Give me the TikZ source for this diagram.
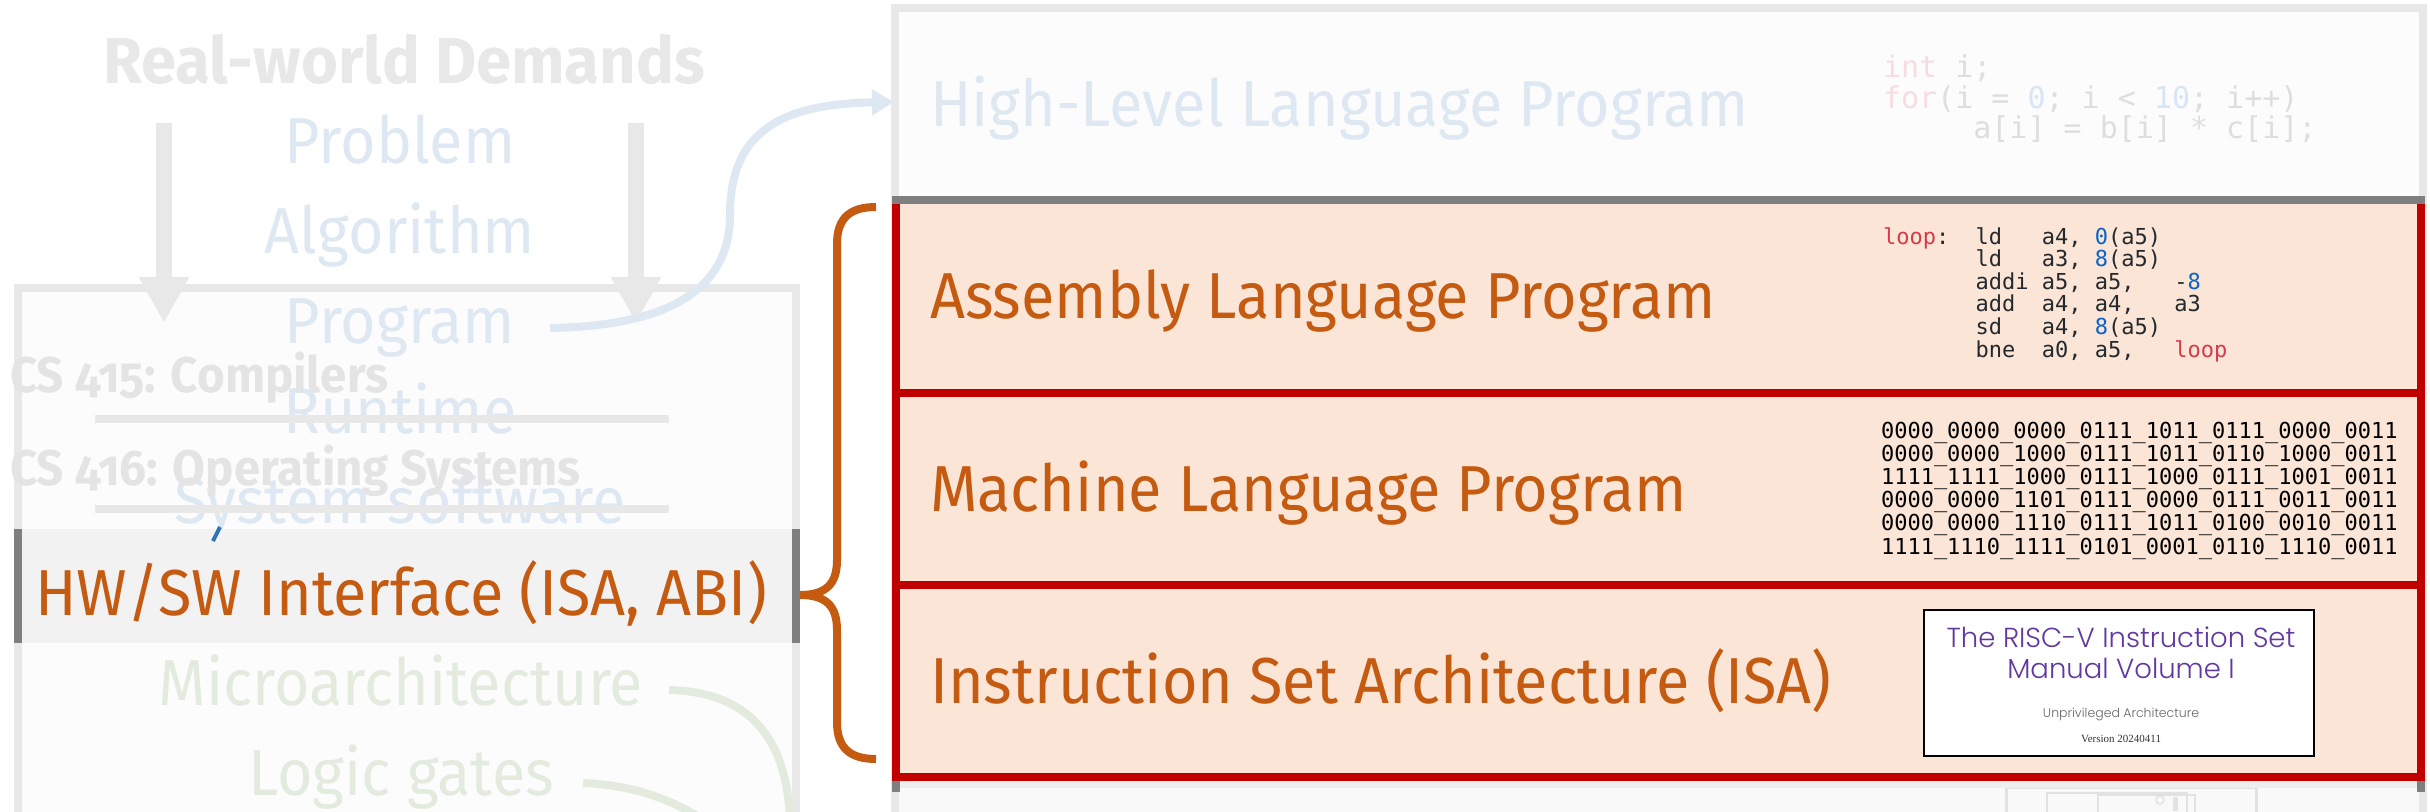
\documentclass[tikz,border=0pt]{standalone}
\usepackage{fontspec}
\usetikzlibrary{arrows.meta}

\setmainfont{Fira Sans}[FakeStretch=0.94]
\newfontfamily\headfont{Fira Sans}[FakeStretch=0.975]
\newfontfamily\coursefont{Fira Sans}[Numbers=OldStyle, FakeStretch=0.95]
\setmonofont{DejaVu Sans Mono}
\IfFontExistsTF{Poppins Light}{\newfontfamily\bookfont{Poppins Light}}{\newfontfamily\bookfont{Poppins}}
\newfontfamily\versionfont{Liberation Serif}

\definecolor{ghost}{HTML}{E8E8E8}
\definecolor{ghostdark}{HTML}{E4E4E4}
\definecolor{paleblue}{HTML}{DEE8F3}
\definecolor{palegreen}{HTML}{E3EBDF}
\definecolor{rust}{HTML}{C55A11}
\definecolor{deepred}{HTML}{C00000}
\definecolor{peach}{HTML}{FBE5D6}
\definecolor{midgray}{HTML}{7F7F7F}
\definecolor{bandgray}{HTML}{F2F2F2}
\definecolor{seamgray}{HTML}{EEEEEE}
\definecolor{paper}{HTML}{FCFCFC}
\definecolor{lowpaper}{HTML}{F9F9F9}
\definecolor{asmkw}{HTML}{D73A49}
\definecolor{asmnum}{HTML}{0B62C9}
\definecolor{asmtext}{HTML}{24292E}
\definecolor{hlkw}{HTML}{F8DDE0}
\definecolor{hlnum}{HTML}{D8E5F5}
\definecolor{hltext}{HTML}{DEDEDE}
\definecolor{bookpurple}{HTML}{6038A0}
\definecolor{faintline}{HTML}{E2E2E2}
\definecolor{ticblue}{HTML}{2E75B6}

\newcommand\layersize{\fontsize{65}{70}\selectfont}
\newcommand\coursesize{\coursefont\bfseries\fontsize{50}{55}\selectfont}
\newcommand\asmsize{\ttfamily\frenchspacing\fontsize{22}{23}\selectfont}
\newcommand\hlsize{\ttfamily\frenchspacing\fontsize{30}{31}\selectfont}

\begin{document}
\begin{tikzpicture}[x=1pt,y=-1pt,
  label/.style={inner sep=0pt, outer sep=0pt},
  stacktext/.style={label, anchor=base, font=\layersize, text=paleblue},
  lowtext/.style={label, anchor=base, font=\layersize, text=palegreen},
  layertext/.style={label, anchor=base west, font=\layersize, text=rust},
  coursetext/.style={label, anchor=base west, font=\coursesize, text=ghostdark},
  asmline/.style={label, anchor=base west, font=\asmsize, text=asmtext},
  hlline/.style={label, anchor=base west, font=\hlsize, text=hltext},
  ghostarrow/.style={draw=ghost, line width=16pt, -{Triangle[length=46pt,width=47pt]}},
  bluearrow/.style={draw=paleblue, line width=8pt, -{Triangle[length=22pt,width=25pt]}},
  greencurve/.style={draw=palegreen, line width=8pt},
  dividerline/.style={draw=ghost, line width=8pt},
  redrule/.style={draw=deepred, line width=8pt},
  bracestyle/.style={draw=rust, line width=8pt, line cap=butt},
]
\useasboundingbox (0,0) rectangle (2430,811);
\clip (0,0) rectangle (2430,811);

% ---------------- right column: abstraction layers ----------------
\draw[ghost, line width=8pt, fill=paper] (895,8) rectangle (2423,900);
\fill[lowpaper] (899,789) rectangle (2419,900);
% faint figure peeking in under the last layer
\draw[faintline, line width=3pt] (2006,787) rectangle (2256,840);
\draw[faintline, line width=2pt] (2047,793) rectangle (2187,840);
\draw[faintline, line width=2pt] (2098,795) rectangle (2195,840);
\draw[faintline, line width=1.5pt] (2160,800) circle (4pt);
\fill[faintline] (2173,797) rectangle (2178,811);

% layer rows: dark top rule, red frame, seam beneath
\fill[peach] (900,204) rectangle (2417,777);
\fill[seamgray] (900,781) rectangle (2417,788);
\draw[midgray, line width=8pt] (892,200) -- (2425,200);
\draw[midgray, line width=8pt] (896,781) -- (896,792);
\draw[midgray, line width=8pt] (2421,781) -- (2421,792);
\draw[redrule] (896,204) -- (896,781);
\draw[redrule] (2421,204) -- (2421,781);
\draw[redrule] (892,393) -- (2425,393);
\draw[redrule] (892,585) -- (2425,585);
\draw[redrule] (892,777) -- (2425,777);

\node[layertext, text=paleblue] (hll) at (930,126) {High-Level Language Program};
\node[layertext] (asml) at (930,318) {Assembly Language Program};
\node[layertext] (mcl) at (930,511) {Machine Language Program};
\node[layertext] (isal) at (930,703) {Instruction Set Architecture (ISA)};

% high-level source
\node[hlline] (hl1) at (1883,77) {{\color{hlkw}int} i;};
\node[hlline] (hl2) at (1883,108) {{\color{hlkw}for}(i~=~{\color{hlnum}0};~i~<~{\color{hlnum}10};~i++)};
\node[hlline] (hl3) at (1883,138) {~~~~~a[i]~=~b[i]~*~c[i];};

% assembly listing
\node[asmline] (as1) at (1883,244) {{\color{asmkw}loop}:~~ld~~~a4,~{\color{asmnum}0}(a5)};
\node[asmline] (as2) at (1883,266.6) {~~~~~~~ld~~~a3,~{\color{asmnum}8}(a5)};
\node[asmline] (as3) at (1883,289.2) {~~~~~~~addi~a5,~a5,~~~-{\color{asmnum}8}};
\node[asmline] (as4) at (1883,311.8) {~~~~~~~add~~a4,~a4,~~~a3};
\node[asmline] (as5) at (1883,334.4) {~~~~~~~sd~~~a4,~{\color{asmnum}8}(a5)};
\node[asmline] (as6) at (1883,357) {~~~~~~~bne~~a0,~a5,~~~{\color{asmkw}loop}};

% machine code
\node[asmline, text=black] (mc1) at (1881,438) {0000\_0000\_0000\_0111\_1011\_0111\_0000\_0011};
\node[asmline, text=black] (mc2) at (1881,461.2) {0000\_0000\_1000\_0111\_1011\_0110\_1000\_0011};
\node[asmline, text=black] (mc3) at (1881,484.4) {1111\_1111\_1000\_0111\_1000\_0111\_1001\_0011};
\node[asmline, text=black] (mc4) at (1881,507.6) {0000\_0000\_1101\_0111\_0000\_0111\_0011\_0011};
\node[asmline, text=black] (mc5) at (1881,530.8) {0000\_0000\_1110\_0111\_1011\_0100\_0010\_0011};
\node[asmline, text=black] (mc6) at (1881,554) {1111\_1110\_1111\_0101\_0001\_0110\_1110\_0011};

% ISA manual cover
\node[draw=black, line width=2.5pt, fill=white, minimum width=390pt, minimum height=146pt, inner sep=0pt] (isabook) at (2119,683) {};
\node[label, anchor=base, font=\bookfont\fontsize{27.5}{30}\selectfont, text=bookpurple] (bt1) at (2121,647) {The RISC-V Instruction Set};
\node[label, anchor=base, font=\bookfont\fontsize{27.5}{30}\selectfont, text=bookpurple] (bt2) at (2121,678) {Manual Volume I};
\node[label, anchor=base, font=\bookfont\fontsize{12.5}{14}\selectfont, text=black!60] (bt3) at (2121,717) {Unprivileged Architecture};
\node[label, anchor=base, font=\versionfont\fontsize{11}{13}\selectfont, text=black!80] (bt4) at (2121,742) {Version 20240411};

% ---------------- left column: the full stack ----------------
\node[label, anchor=base, font=\headfont\bfseries\fontsize{65}{70}\selectfont, text=ghost] (demands) at (404,83) {Real-world Demands};

\draw[ghost, line width=8pt, fill=paper] (18,288) rectangle (796,900);

\coordinate (arrL0) at (164,123);
\coordinate (arrL1) at (164,323);
\coordinate (arrR0) at (636,123);
\coordinate (arrR1) at (636,323);
\draw[ghostarrow] (arrL0) -- (arrL1);
\draw[ghostarrow] (arrR0) -- (arrR1);

\node[stacktext] (problem) at (400,163) {Problem};
\node[stacktext] (algorithm) at (400,253) {Algorithm};
\node[stacktext] (program) at (400,343) {Program};
\node[stacktext] (runtime) at (400,433) {Runtime};
\node[stacktext] (syssw) at (400,523) {System software};

\coordinate (div1a) at (95,419);
\coordinate (div1b) at (669,419);
\coordinate (div2a) at (95,509);
\coordinate (div2b) at (669,509);
\draw[dividerline] (div1a) -- (div1b);
\draw[dividerline] (div2a) -- (div2b);

\node[coursetext] (cs415) at (10,392) {CS 415: Compilers};
\node[coursetext] (cs416) at (10,485) {CS 416: Operating Systems};

% hardware/software interface band
\node[fill=bandgray, minimum width=786pt, minimum height=114pt, inner sep=0pt] (band) at (407,586) {};
\fill[midgray] (14,529) rectangle (22,643);
\fill[midgray] (792,529) rectangle (800,643);
\draw[ticblue, line width=4pt] (220,527) -- (213,541);
\node[label, anchor=base, font=\layersize, text=rust] (hwsw) at (401,615) {HW/SW Interface (ISA, ABI)};

\node[lowtext] (uarch) at (401,705) {Microarchitecture};
\node[lowtext] (gates) at (401,795) {Logic gates};

\coordinate (uarchEnd) at (669,690);
\coordinate (uarchOut) at (790,830);
\coordinate (gatesEnd) at (583,783);
\coordinate (gatesOut) at (730,840);
\draw[greencurve] (uarchEnd) .. controls (755,692) and (790,745) .. (uarchOut);
\draw[greencurve] (gatesEnd) .. controls (640,785) and (690,805) .. (gatesOut);

% program -> high-level layer
\coordinate (progEnd) at (550,328);
\coordinate (hlEntry) at (894,102);
\draw[bluearrow] (progEnd) .. controls (680,326) and (730,282) .. (730,215)
                 .. controls (730,132) and (780,104) .. (hlEntry);

% brace gathering the three layers
\coordinate (braceTop) at (876,207);
\coordinate (braceTip) at (800,595);
\coordinate (braceBot) at (876,759);
\draw[bracestyle] (braceTop) .. controls (850,207) and (837,218) .. (837,244)
   -- (837,560) .. controls (837,584) and (826,595) .. (braceTip)
   .. controls (826,595) and (837,606) .. (837,630)
   -- (837,722) .. controls (837,748) and (850,759) .. (braceBot);
\end{tikzpicture}
\end{document}
